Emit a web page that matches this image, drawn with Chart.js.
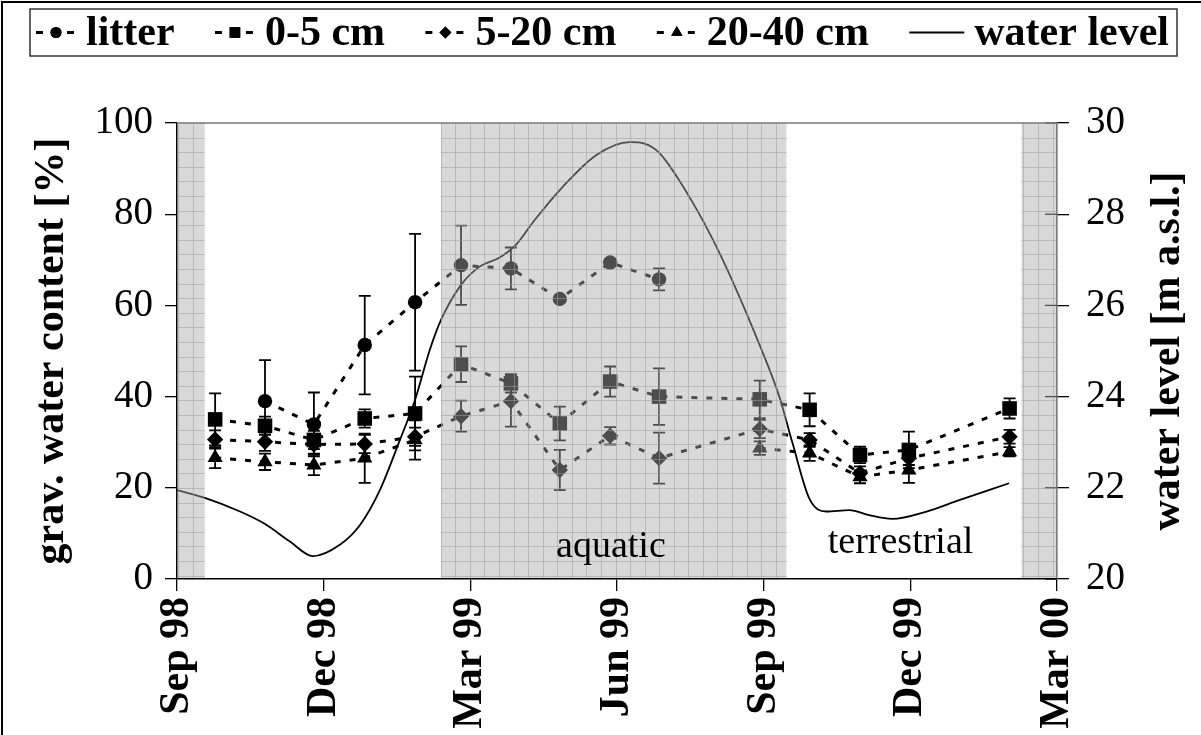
<!DOCTYPE html>
<html><head><meta charset="utf-8">
<script src="https://cdn.jsdelivr.net/npm/chart.js@4/dist/chart.umd.min.js"></script>
<style>
html,body{margin:0;padding:0;background:#fff;}
#wrap{position:relative;width:1201px;height:735px;}
</style></head><body>
<div id="wrap"><canvas id="c" width="1201" height="735"></canvas></div>
<script>
// ---------- data ----------
const tickLabels = ['Sep 98','Dec 98','Mar 99','Jun 99','Sep 99','Dec 99','Mar 00'];
// sampling dates, months after 1 Sep 1998
const sampleMonths = [0.78,1.80,2.80,3.84,4.87,5.81,6.83,7.83,8.86,9.86,11.92,12.94,13.97,14.97,17.03];
const litter    = [null,39.0,33.9,51.3,60.7,68.8,68.1,61.4,69.4,65.7,null,null,null,null,null];
const litterErr = [null,9.0,7.0,10.8,15.0,8.7,4.6,0.5,0.8,2.4,null,null,null,null,null];
const cm0_5     = [35.0,33.6,30.5,35.2,36.3,47.1,42.9,34.1,43.3,40.0,39.4,37.1,27.2,28.3,37.4];
const cm0_5Err  = [5.7,2.0,2.0,2.0,8.1,3.9,2.0,3.7,3.3,6.2,4.1,3.6,1.8,4.0,2.2];
const cm5_20    = [30.6,30.1,29.5,29.6,31.2,35.7,39.0,23.9,31.4,26.5,32.9,30.5,23.2,26.5,31.2];
const cm5_20Err = [2.0,2.0,2.0,2.0,2.0,3.4,5.6,4.4,1.9,5.6,2.0,1.5,1.5,1.5,1.5];
const cm20_40   = [26.6,25.7,25.0,26.5,30.5,null,null,null,null,null,28.7,27.6,22.4,23.9,27.9];
const cm20_40Err= [2.3,1.8,2.2,5.4,4.3,null,null,null,null,null,1.5,1.7,1.4,2.8,1.0];
// water level (m a.s.l.)
const waterMonths = [0.00,0.57,1.29,1.81,2.31,2.78,3.33,3.74,4.15,4.56,4.87,5.17,5.40,5.81,6.19,6.60,6.95,7.30,7.89,8.58,9.26,9.56,9.87,10.48,11.10,11.91,12.32,12.59,12.94,13.28,13.75,14.16,14.63,15.33,16.00,17.02];
const waterLevel  = [21.95,21.78,21.48,21.20,20.82,20.50,20.75,21.18,21.95,23.05,23.93,25.02,25.68,26.45,26.85,27.05,27.35,27.85,28.60,29.30,29.58,29.55,29.34,28.38,27.14,25.15,24.00,22.98,21.75,21.48,21.51,21.40,21.32,21.48,21.73,22.10];
// flooded (aquatic) periods, months after 1 Sep 1998
const shadedStart = [0.0, 5.40, 17.27];
const shadedEnd   = [0.57, 12.47, 18.0];
const phaseLabels = ['aquatic','terrestrial'];
const phaseMonths = [8.875, 14.8];
const phaseValues = [4.8, 5.7];

// ---------- helpers ----------
const SERIF = '"Liberation Serif","Times New Roman",serif';
const pts = (xs, ys) => xs.map((m,i)=>({x:m, y:ys[i]}));
const series = [
  {label:'litter',  data:litter,  err:litterErr,  style:'circle',   r:7.2},
  {label:'0-5 cm',  data:cm0_5,   err:cm0_5Err,   style:'rect',     r:10.3},
  {label:'5-20 cm', data:cm5_20,  err:cm5_20Err,  style:'rectRot',  r:8.2},
  {label:'20-40 cm',data:cm20_40, err:cm20_40Err, style:'triangle', r:8.8}
];
const datasets = series.map(s=>({
  label:s.label, data:pts(sampleMonths, s.data), yAxisID:'y',
  borderColor:'#000', backgroundColor:'#000', borderWidth:3, borderDash:[6,9],
  pointStyle:s.style, pointRadius:s.r, pointBorderWidth:0, spanGaps:false, tension:0, order:2
}));
datasets.push({
  label:'water level', data:pts(waterMonths, waterLevel), yAxisID:'y2',
  borderColor:'#000', borderWidth:1.8, pointRadius:0, cubicInterpolationMode:'monotone', fill:false, order:1
});

const plugin = {
  id:'custom',
  beforeDatasetsDraw(chart){
    const ctx = chart.ctx, ys = chart.scales.y, xs = chart.scales.x;
    ctx.save();
    ctx.strokeStyle = '#000'; ctx.lineWidth = 1.8;
    series.forEach(s=>{
      s.data.forEach((v,i)=>{
        const e = s.err[i];
        if (v==null || e==null || e<=0.6) return;
        const px = xs.getPixelForValue(sampleMonths[i]);
        const y1 = ys.getPixelForValue(v+e), y2 = ys.getPixelForValue(v-e);
        ctx.beginPath();
        ctx.moveTo(px,y1); ctx.lineTo(px,y2);
        ctx.moveTo(px-6,y1); ctx.lineTo(px+6,y1);
        ctx.moveTo(px-6,y2); ctx.lineTo(px+6,y2);
        ctx.stroke();
      });
    });
    ctx.restore();
  },
  afterDatasetsDraw(chart){
    const ctx = chart.ctx, {top,bottom,left,right} = chart.chartArea, xs = chart.scales.x, ys = chart.scales.y, y2 = chart.scales.y2;
    ctx.save();
    // inner ticks of the right axis
    ctx.strokeStyle='#000'; ctx.lineWidth=1.3;
    y2.ticks.forEach(t=>{
      const py = y2.getPixelForValue(t.value);
      ctx.beginPath(); ctx.moveTo(right-12,py); ctx.lineTo(right,py); ctx.stroke();
    });
    // shaded overlay (flooded periods)
    for (let k=0;k<shadedStart.length;k++){
      const x0 = Math.max(xs.getPixelForValue(shadedStart[k]), left+1);
      const x1 = Math.min(xs.getPixelForValue(shadedEnd[k]), right+1);
      ctx.save();
      ctx.beginPath(); ctx.rect(x0, top, x1-x0, bottom-top-1); ctx.clip();
      ctx.fillStyle='rgba(171,171,171,0.45)';
      ctx.fillRect(x0, top, x1-x0, bottom-top-1);
      ctx.strokeStyle='rgba(160,160,160,0.55)'; ctx.lineWidth=1;
      ctx.beginPath();
      for (let gx=left+1.4; gx<=right+1; gx+=14.57){ ctx.moveTo(Math.round(gx)+0.5,top); ctx.lineTo(Math.round(gx)+0.5,bottom); }
      for (let gy=top+14.6; gy<bottom; gy+=14.6){ ctx.moveTo(x0,Math.round(gy)+0.5); ctx.lineTo(x1,Math.round(gy)+0.5); }
      ctx.stroke();
      ctx.restore();
    }
    // top frame line
    ctx.strokeStyle='#7a7a7a'; ctx.lineWidth=1.5;
    ctx.beginPath(); ctx.moveTo(left,top); ctx.lineTo(right,top); ctx.stroke();
    // phase labels
    ctx.fillStyle='#000'; ctx.font='38px '+SERIF; ctx.textAlign='center'; ctx.textBaseline='alphabetic';
    phaseLabels.forEach((t,i)=>ctx.fillText(t, xs.getPixelForValue(phaseMonths[i]), ys.getPixelForValue(phaseValues[i])));
    ctx.restore();
  },
  afterDraw(chart){
    const ctx = chart.ctx, {top,bottom} = chart.chartArea;
    ctx.save();
    // right axis title, reading upwards
    ctx.fillStyle='#000'; ctx.font='bold 42px '+SERIF; ctx.textAlign='center'; ctx.textBaseline='middle';
    ctx.translate(1168,(top+bottom)/2); ctx.rotate(-Math.PI/2);
    ctx.fillText('water level [m a.s.l.]',0,0);
    ctx.setTransform(1,0,0,1,0,0);
    // outer frame
    ctx.strokeStyle='#000'; ctx.lineWidth=2;
    ctx.strokeRect(2,2,1200,745);
    // legend box
    const bx0=30, bx1=1177, by0=9, by1=56;
    ctx.lineWidth=1.5; ctx.strokeStyle='#333';
    ctx.strokeRect(bx0,by0,bx1-bx0,by1-by0);
    ctx.font='bold 42px '+SERIF; ctx.textBaseline='middle'; ctx.textAlign='left'; ctx.fillStyle='#000';
    const labels = series.map(s=>s.label).concat(['water level']);
    const symW=[40,40,40,40,55], gapST=10;
    const tw = labels.map(l=>ctx.measureText(l).width);
    let total = 0; labels.forEach((l,i)=>total+=symW[i]+gapST+tw[i]);
    const itemGap = (bx1-bx0-14-total)/(labels.length-1);
    let x = bx0+6; const cy=(by0+by1)/2;
    labels.forEach((l,i)=>{
      ctx.strokeStyle='#000'; ctx.fillStyle='#000';
      if (i<4){
        ctx.lineWidth=3;
        ctx.beginPath(); ctx.moveTo(x,cy); ctx.lineTo(x+7,cy); ctx.moveTo(x+31,cy); ctx.lineTo(x+38,cy); ctx.stroke();
        Chart.helpers.drawPoint(ctx,{pointStyle:series[i].style, radius:[5.5,7.5,6,6.5][i], borderWidth:0, rotation:0}, x+20, cy);
        ctx.fill();
      } else {
        ctx.lineWidth=1.8;
        ctx.beginPath(); ctx.moveTo(x,cy); ctx.lineTo(x+symW[i],cy); ctx.stroke();
      }
      ctx.fillStyle='#000';
      ctx.fillText(l, x+symW[i]+gapST, cy+2);
      x += symW[i]+gapST+tw[i]+itemGap;
    });
    ctx.restore();
  }
};

new Chart(document.getElementById('c'), {
  type:'line',
  data:{datasets},
  plugins:[plugin],
  options:{
    responsive:false, animation:false, devicePixelRatio:1,
    layout:{padding:{top:123,left:0,right:0,bottom:0}},
    plugins:{legend:{display:false}, tooltip:{enabled:false}},
    scales:{
      x:{type:'linear', position:'bottom', min:0, max:18,
        afterFit(s){ s.height = 735-579; },
        afterBuildTicks(s){ s.ticks = tickLabels.map((l,i)=>({value:i*3})); },
        ticks:{autoSkip:false, maxRotation:90, minRotation:90, padding:6, color:'#000',
          font:{family:SERIF, size:42, weight:'bold'},
          callback:(v)=>tickLabels[Math.round(v/3)]},
        grid:{drawOnChartArea:false, drawTicks:true, tickLength:12, color:'#000', lineWidth:1.3},
        border:{color:'#000', width:1.5}},
      y:{position:'left', min:0, max:100,
        afterFit(s){ s.width = 177; },
        ticks:{stepSize:20, padding:12, color:'#000', font:{family:SERIF, size:39}},
        title:{display:true, text:'grav. water content [%]', color:'#000', font:{family:SERIF, size:42, weight:'bold'}, padding:{top:27,bottom:0}},
        grid:{drawOnChartArea:false, drawTicks:true, tickLength:12, color:'#000', lineWidth:1.3},
        border:{color:'#000', width:1.5}},
      y2:{position:'right', min:20, max:30,
        afterFit(s){ s.width = 1201-1057; },
        ticks:{stepSize:2, padding:17, color:'#000', font:{family:SERIF, size:39}},
        title:{display:false},
        grid:{drawOnChartArea:false, drawTicks:true, tickLength:12, color:'#000', lineWidth:1.3},
        border:{color:'#555', width:1.5}}
    }
  }
});
</script>
</body></html>
